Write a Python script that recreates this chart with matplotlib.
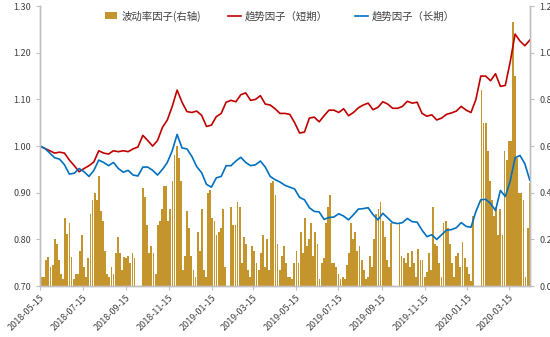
import matplotlib
matplotlib.use("Agg")
import matplotlib.pyplot as plt
import pandas as pd
import numpy as np

plt.rcParams['font.family'] = ['Noto Sans CJK SC', 'DejaVu Sans']

# ---------------- data ----------------
start_date = '2018-05-15'
end_date = '2020-04-13'

# volatility factor (right axis), one value per 3 calendar days
vol_factor = [
    0.20, 0.04, 0.04, 0.11, 0.125, 0.08, 0.09, 0.20, 0.18, 0.11,
    0.05, 0.03, 0.29, 0.225, 0.27, 0.125, 0.03, 0.05, 0.05, 0.15,
    0.22, 0.08, 0.04, 0.12, 0.31, 0.37, 0.40, 0.37, 0.47, 0.32,
    0.28, 0.15, 0.05, 0.04, 0.08, 0.05, 0.14, 0.21, 0.14, 0.07,
    0.125, 0.12, 0.13, 0.10, 0.14, 0.12, 0.0, 0.0, 0.0, 0.42,
    0.38, 0.26, 0.14, 0.17, 0.14, 0.05, 0.26, 0.28, 0.33, 0.43,
    0.43, 0.28, 0.33, 0.45, 0.56, 0.60, 0.55, 0.45, 0.07, 0.13,
    0.32, 0.25, 0.13, 0.07, 0.04, 0.23, 0.15, 0.33, 0.07, 0.04,
    0.40, 0.41, 0.29, 0.28, 0.22, 0.23, 0.25, 0.33, 0.08, 0.0,
    0.0, 0.34, 0.26, 0.26, 0.36, 0.34, 0.10, 0.21, 0.18, 0.07,
    0.04, 0.17, 0.15, 0.10, 0.07, 0.14, 0.22, 0.08, 0.20, 0.07,
    0.44, 0.45, 0.39, 0.18, 0.07, 0.13, 0.17, 0.10, 0.04, 0.04,
    0.03, 0.10, 0.15, 0.10, 0.23, 0.14, 0.29, 0.17, 0.20, 0.27,
    0.13, 0.23, 0.18, 0.03, 0.10, 0.12, 0.27, 0.34, 0.39, 0.10,
    0.10, 0.08, 0.05, 0.03, 0.04, 0.03, 0.09, 0.14, 0.27, 0.20,
    0.23, 0.15, 0.17, 0.11, 0.07, 0.03, 0.04, 0.13, 0.08, 0.20,
    0.31, 0.33, 0.36, 0.28, 0.21, 0.11, 0.08, 0.27, 0.0, 0.0,
    0.0, 0.27, 0.13, 0.12, 0.10, 0.14, 0.08, 0.15, 0.10, 0.04,
    0.16, 0.11, 0.11, 0.04, 0.06, 0.14, 0.07, 0.34, 0.18, 0.17,
    0.10, 0.04, 0.27, 0.28, 0.25, 0.18, 0.10, 0.04, 0.13, 0.14,
    0.08, 0.19, 0.12, 0.08, 0.05, 0.02, 0.30, 0.0, 0.0, 0.0,
    0.84, 0.70, 0.70, 0.58, 0.45, 0.37, 0.30, 0.34, 0.22, 0.33,
    0.22, 0.58, 0.54, 0.62, 0.62, 1.13, 0.90, 0.55, 0.40, 0.40,
    0.37, 0.04, 0.25, 0.44,
]

# trend factor, short term (left axis), about weekly
trend_short = [
    1.000, 0.995, 0.990, 0.985, 0.987, 0.985, 0.970, 0.958, 0.945, 0.952,
    0.958, 0.966, 0.990, 0.985, 0.983, 0.990, 0.988, 0.990, 0.988, 0.994,
    0.998, 1.023, 1.012, 1.000, 1.012, 1.040, 1.056, 1.085, 1.120, 1.094,
    1.074, 1.072, 1.075, 1.066, 1.042, 1.045, 1.063, 1.070, 1.094, 1.098,
    1.095, 1.110, 1.114, 1.098, 1.100, 1.108, 1.090, 1.088, 1.080, 1.070,
    1.070, 1.068, 1.050, 1.028, 1.030, 1.060, 1.062, 1.052, 1.065, 1.077,
    1.077, 1.072, 1.080, 1.065, 1.072, 1.082, 1.088, 1.092, 1.078, 1.083,
    1.095, 1.090, 1.081, 1.081, 1.085, 1.096, 1.092, 1.094, 1.070, 1.064,
    1.067, 1.056, 1.060, 1.068, 1.071, 1.075, 1.085, 1.077, 1.072, 1.100,
    1.150, 1.150, 1.140, 1.155, 1.128, 1.130, 1.180, 1.240, 1.225, 1.215,
    1.227,
]

# trend factor, long term (left axis), about weekly
trend_long = [
    1.000, 0.995, 0.985, 0.975, 0.972, 0.960, 0.940, 0.942, 0.952, 0.945,
    0.935, 0.948, 0.970, 0.965, 0.958, 0.965, 0.952, 0.944, 0.948, 0.938,
    0.936, 0.955, 0.955, 0.948, 0.938, 0.950, 0.965, 0.990, 1.025, 0.996,
    0.994, 0.978, 0.956, 0.943, 0.918, 0.912, 0.932, 0.935, 0.958, 0.958,
    0.968, 0.976, 0.965, 0.958, 0.960, 0.968, 0.955, 0.935, 0.928, 0.923,
    0.916, 0.912, 0.908, 0.890, 0.885, 0.868, 0.860, 0.859, 0.843, 0.847,
    0.848, 0.855, 0.850, 0.842, 0.853, 0.865, 0.866, 0.868, 0.853, 0.842,
    0.856, 0.846, 0.836, 0.834, 0.836, 0.845, 0.838, 0.837, 0.820, 0.806,
    0.810, 0.800, 0.810, 0.820, 0.821, 0.825, 0.836, 0.828, 0.826, 0.860,
    0.885, 0.886, 0.877, 0.862, 0.905, 0.892, 0.925, 0.975, 0.980, 0.962,
    0.927,
]

tick_dates = ['2018-05-15', '2018-07-15', '2018-09-15', '2018-11-15',
              '2019-01-15', '2019-03-15', '2019-05-15', '2019-07-15',
              '2019-09-15', '2019-11-15', '2020-01-15', '2020-03-15']

labels = ['波动率因子(右轴)', '趋势因子（短期）', '趋势因子（长期）']

# ---------------- plot ----------------
bar_dates = pd.date_range(start_date, periods=len(vol_factor), freq='3D')
line_dates = pd.date_range(start_date, end_date, periods=len(trend_short))

fig = plt.figure(figsize=(5.5, 3.37), dpi=100)
ax = fig.add_axes([0.0727, 0.151, 0.8918, 0.831])
ax2 = ax.twinx()

gold = '#C4952C'
red = '#C00000'
blue = '#0070C0'
grey = '#BFBFBF'
txt = '#404040'

bars = ax2.bar(bar_dates, vol_factor, width=2.6, color=gold, linewidth=0)
l1, = ax.plot(line_dates, trend_short, color=red, lw=1.2)
l2, = ax.plot(line_dates, trend_long, color=blue, lw=1.2)

ax.set_zorder(ax2.get_zorder() + 1)
ax.patch.set_visible(False)

ax.set_ylim(0.70, 1.30)
ax.set_yticks(np.arange(0.70, 1.301, 0.10))
ax.yaxis.set_major_formatter(matplotlib.ticker.FormatStrFormatter('%.2f'))
ax2.set_ylim(0.0, 1.2)
ax2.set_yticks(np.arange(0.0, 1.201, 0.2))
ax2.yaxis.set_major_formatter(matplotlib.ticker.FormatStrFormatter('%.1f'))

ax.set_xlim(pd.Timestamp(start_date), pd.Timestamp('2020-04-14'))
ax.set_xticks(pd.to_datetime(tick_dates))
ax.set_xticklabels(tick_dates, rotation=45, ha='right', rotation_mode='anchor')

for a in (ax, ax2):
    a.spines['top'].set_visible(False)
    for s in ('left', 'right', 'bottom'):
        a.spines[s].set_color(grey)
        a.spines[s].set_linewidth(1.0)
    a.tick_params(colors=txt, labelsize=6.5, length=3, width=0.8, color=grey)
ax.tick_params(axis='x', pad=2)

leg = ax.legend([bars, l1, l2], labels, loc='upper center',
                bbox_to_anchor=(0.489, 1.018), ncol=3, frameon=False,
                fontsize=7.5, handlelength=1.2, handleheight=0.7,
                columnspacing=2.6, handletextpad=0.4)
for t in leg.get_texts():
    t.set_color(txt)

fig.savefig('out.png', dpi=100)
